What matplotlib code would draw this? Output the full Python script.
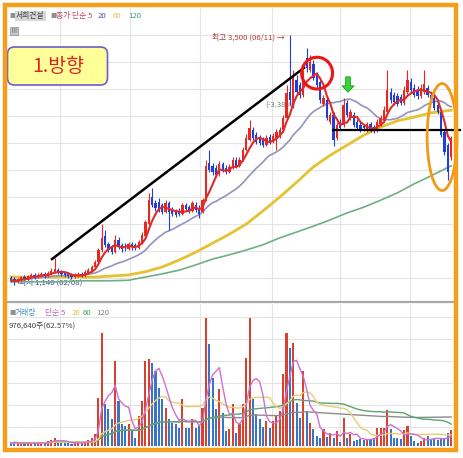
import numpy as np
import pandas as pd
import matplotlib
matplotlib.use("Agg")
import matplotlib.pyplot as plt
from matplotlib.patches import Rectangle, FancyBboxPatch, Ellipse, Polygon

plt.rcParams['font.family'] = ['Noto Sans CJK KR', 'DejaVu Sans']

W, H = 463, 458

# 서희건설 일봉 (원) - 그림에서 읽은 값
opens = [1205, 1195, 1170, 1185, 1215, 1195, 1215, 1235, 1215, 1225,
         1245, 1225, 1245, 1265, 1280, 1265, 1255, 1245, 1235, 1215,
         1225, 1245, 1225, 1255, 1270, 1310, 1355, 1470, 1605, 1525,
         1490, 1450, 1565, 1520, 1510, 1480, 1525, 1520, 1490, 1535,
         1605, 1715, 1970, 1915, 1925, 1895, 1830, 1915, 1850, 1830,
         1840, 1810, 1895, 1875, 1840, 1895, 1865, 1830, 1940, 2290,
         2265, 2245, 2190, 2280, 2245, 2205, 2245, 2320, 2265, 2320,
         2415, 2510, 2605, 2555, 2530, 2510, 2460, 2535, 2490, 2530,
         2545, 2605, 2715, 2960, 2840, 3075, 3030, 2935, 3285, 3170,
         3225, 3120, 3055, 2850, 2885, 2680, 2745, 2530, 2680, 2650,
         2860, 2715, 2745, 2680, 2650, 2640, 2605, 2660, 2630, 2605,
         2660, 2700, 2775, 2960, 2935, 2925, 2915, 2860, 2960, 3055,
         3000, 2980, 2925, 2960, 3000, 2935, 2905, 2840, 2775, 2585,
         2460, 2350]
highs = [1225, 1215, 1205, 1225, 1235, 1235, 1255, 1255, 1255, 1265,
         1265, 1270, 1300, 1395, 1300, 1280, 1270, 1265, 1255, 1255,
         1265, 1265, 1280, 1300, 1330, 1375, 1490, 1715, 1660, 1545,
         1520, 1610, 1595, 1535, 1535, 1545, 1545, 1535, 1565, 1640,
         1755, 2010, 2055, 1940, 1960, 1915, 1940, 1935, 1875, 1855,
         1865, 1915, 1915, 1895, 1935, 1925, 1895, 1960, 2320, 2415,
         2290, 2275, 2310, 2300, 2275, 2280, 2350, 2350, 2350, 2445,
         2565, 2700, 2630, 2585, 2555, 2535, 2555, 2565, 2575, 2615,
         2630, 2745, 3030, 3500, 3170, 3120, 3055, 3170, 3375, 3310,
         3265, 3150, 3075, 2935, 2915, 2775, 2775, 2680, 2705, 2905,
         2885, 2800, 2775, 2705, 2680, 2660, 2680, 2680, 2650, 2705,
         2745, 2830, 3170, 3000, 2960, 2955, 2945, 3020, 3170, 3095,
         3035, 3020, 3035, 3170, 3030, 2960, 2935, 2865, 2790, 2605,
         2480, 2545]
lows = [1170, 1140, 1160, 1180, 1185, 1185, 1205, 1195, 1205, 1215,
        1205, 1215, 1235, 1255, 1245, 1225, 1215, 1205, 1195, 1205,
        1215, 1215, 1215, 1245, 1265, 1300, 1350, 1450, 1500, 1450,
        1435, 1440, 1480, 1450, 1460, 1470, 1470, 1470, 1480, 1525,
        1595, 1705, 1875, 1840, 1830, 1810, 1820, 1660, 1790, 1780,
        1790, 1800, 1840, 1820, 1830, 1830, 1770, 1820, 1935, 2205,
        2180, 2160, 2170, 2205, 2190, 2195, 2235, 2245, 2255, 2310,
        2405, 2500, 2510, 2470, 2460, 2445, 2450, 2470, 2480, 2415,
        2530, 2585, 2700, 2840, 2810, 2935, 2905, 2915, 3150, 3150,
        3075, 3000, 2860, 2830, 2700, 2660, 2450, 2510, 2605, 2630,
        2725, 2700, 2630, 2605, 2585, 2595, 2585, 2585, 2575, 2585,
        2640, 2680, 2755, 2860, 2840, 2830, 2840, 2840, 2945, 2955,
        2915, 2895, 2905, 2945, 2915, 2865, 2790, 2755, 2535, 2365,
        2130, 2320]
closes = [1185, 1170, 1195, 1215, 1195, 1225, 1235, 1215, 1235, 1245,
          1225, 1255, 1270, 1290, 1265, 1245, 1235, 1225, 1215, 1235,
          1245, 1225, 1265, 1280, 1310, 1355, 1470, 1585, 1520, 1470,
          1450, 1565, 1510, 1480, 1490, 1525, 1500, 1490, 1545, 1610,
          1735, 1940, 1895, 1865, 1850, 1830, 1915, 1830, 1810, 1800,
          1810, 1895, 1855, 1840, 1915, 1850, 1810, 1940, 2265, 2225,
          2205, 2180, 2280, 2225, 2205, 2255, 2320, 2265, 2320, 2415,
          2530, 2620, 2530, 2490, 2480, 2460, 2530, 2490, 2545, 2585,
          2605, 2715, 2955, 2885, 3095, 2960, 2935, 3120, 3190, 3245,
          3095, 3030, 2885, 2905, 2715, 2745, 2510, 2650, 2620, 2840,
          2745, 2775, 2650, 2620, 2605, 2620, 2660, 2605, 2595, 2680,
          2715, 2790, 2980, 2885, 2865, 2850, 2860, 2980, 3075, 2980,
          2935, 2925, 3000, 3035, 2935, 2885, 2810, 2775, 2555, 2395,
          2205, 2530]
# 거래량 (천주)
volumes = [180, 240, 180, 120, 180, 240, 180, 120, 180, 240,
           180, 300, 360, 480, 300, 180, 240, 180, 120, 240,
           180, 180, 240, 360, 480, 720, 2880, 6780, 2520, 2220,
           1620, 5100, 2700, 1320, 1200, 1320, 900, 480, 1800, 2700,
           5100, 5220, 4980, 4500, 3480, 2820, 2280, 1620, 1380, 1320,
           1080, 2820, 1080, 1080, 1620, 1080, 1200, 2280, 7680, 6120,
           4080, 2220, 3420, 1980, 900, 1020, 2520, 780, 1320, 2520,
           5280, 7680, 2820, 1920, 1620, 1140, 1500, 1080, 1500, 1800,
           2100, 4320, 6780, 5880, 6180, 2580, 1680, 4500, 2100, 1380,
           1020, 600, 480, 1020, 540, 780, 480, 900, 240, 1680,
           480, 720, 300, 360, 420, 360, 420, 420, 480, 1080,
           1080, 1080, 2160, 1020, 480, 480, 420, 960, 1200, 600,
           300, 180, 300, 480, 600, 420, 420, 360, 420, 480,
           780, 977]

# 60일 / 120일 이동평균 (그림에서 읽은 값, 5봉 간격)
ma_idx = [0, 5, 10, 15, 20, 25, 30, 35, 40, 45, 50, 55, 60, 65,
          70, 75, 80, 85, 90, 95, 100, 105, 110, 115, 120, 125, 131]
ma60 = [1215, 1215, 1215, 1215, 1215, 1215, 1225, 1235, 1265, 1310, 1375, 1450, 1535, 1620,
        1715, 1840, 1970, 2110, 2255, 2365, 2460, 2555, 2630, 2690, 2725, 2765, 2790]
ma120 = [1170, 1170, 1170, 1170, 1180, 1180, 1180, 1185, 1215, 1245, 1280, 1330, 1385, 1425,
         1470, 1520, 1585, 1640, 1695, 1755, 1820, 1875, 1940, 2010, 2095, 2170, 2265]

# 주석 위치 (봉 번호, 가격)
trend_line = ([12.2, 87.2], [1385, 3190])
support_price = 2605
support_from = 95.8
circle_at = (91.1, 3140)
ellipse_at = (128.3, 2537)
arrow_at = (100.3, 3105)

x = np.arange(len(closes))
o = np.array(opens)
c = np.array(closes)
hi = np.array(highs)
lo = np.array(lows)
vol = np.array(volumes)
up = c >= o
RED, BLUE = '#e8281e', '#1f3fd8'
cols = np.where(up, RED, BLUE)
vcols = np.where(up, '#d8412f', '#3a74c8')

fig = plt.figure(figsize=(W / 100, H / 100), dpi=100)

def fx(px):
    return px / W

def fy(py):
    return 1 - py / H

ax = fig.add_axes([fx(8), fy(302), fx(453) - fx(8), fy(8) - fy(302)])
axv = fig.add_axes([fx(8), fy(446), fx(453) - fx(8), fy(304) - fy(446)])

xlim = (-0.9, 131.55)
for a in (ax, axv):
    a.set_xlim(*xlim)
    a.set_xticks([14.6, 35.4, 56.3, 77.7, 97.9, 118.8])
    a.grid(True, color='#e4e4e4', lw=0.8)
    a.set_axisbelow(True)
    a.tick_params(length=0, labelbottom=False, labelleft=False)
    for s in a.spines.values():
        s.set_visible(False)

ax.set_ylim(979.5, 3755)
ax.set_yticks([3500, 3245, 2990, 2735, 2480, 2225, 1970, 1715, 1460, 1205])
ax.spines['bottom'].set_visible(True)
ax.spines['bottom'].set_color('#a8a8a8')
ax.spines['bottom'].set_linewidth(1.6)

axv.set_ylim(0, 8520)
axv.set_yticks([1140, 2460, 3780, 5100, 6420, 7740])

# 이동평균선
ma5 = pd.Series(closes).rolling(5, min_periods=1).mean()
ma20 = pd.Series(closes).rolling(20, min_periods=1).mean()
ax.plot(ma_idx, ma120, color='#6fae86', lw=1.2, zorder=2)
ax.plot(ma_idx, ma60, color='#e5c232', lw=2.0, zorder=2)
ax.plot(x, ma20, color='#9393bd', lw=1.2, zorder=2)

# 텍스트 (봉 뒤)
fs = 5.6
ax.text(75.6, 2835, '(-3.38%)', fontsize=fs, color='#777777', va='center', zorder=1)
ax.text(2.5, 1160, '최저 1,140 (02/08)', fontsize=fs, color='#3b4a96', va='center', zorder=1)

# 캔들
ax.vlines(x, lo, hi, colors=cols, lw=0.8, zorder=3)
body_bot = np.minimum(o, c)
body_h = np.maximum(np.abs(c - o), 8)
ax.bar(x, body_h, bottom=body_bot, width=0.68, color=cols, lw=0, zorder=3)
ax.plot(x, ma5, color='#e02a2a', lw=1.5, zorder=4)

ax.text(83 - 1.6, 3480, '최고 3,500 (06/11) →', fontsize=fs, color='#b33a3a',
        ha='right', va='center', zorder=4)

# 추세선, 지지선, 표시
ax.plot(*trend_line, color='black', lw=1.8, zorder=5)
ax.plot([support_from, 133.6], [support_price, support_price], color='black', lw=1.6,
        zorder=5, clip_on=False)
ax.add_patch(Ellipse(circle_at, 9.2, 300, fill=False, ec='#ee1515', lw=2.2, zorder=6))
ax.add_patch(Ellipse(ellipse_at, 8.9, 1010, fill=False, ec='#f29a18', lw=2.0, zorder=6,
                     clip_on=False))
ax_, ay_ = arrow_at
ax.add_patch(Polygon([(ax_ - 0.7, ay_), (ax_ + 0.7, ay_), (ax_ + 0.7, ay_ - 85),
                      (ax_ + 1.8, ay_ - 85), (ax_, ay_ - 145), (ax_ - 1.8, ay_ - 85),
                      (ax_ - 0.7, ay_ - 85)],
                     closed=True, fc='#33d633', ec='#1c9a1c', lw=0.6, zorder=6))

# 거래량
axv.bar(x, vol, width=0.62, color=vcols, lw=0, zorder=2)
vs = pd.Series(volumes)
axv.plot(x, vs.rolling(120, min_periods=1).mean(), color='#8c8c8c', lw=1.0, zorder=3)
axv.plot(x, vs.rolling(60, min_periods=1).mean(), color='#5aa66e', lw=1.0, zorder=3)
axv.plot(x, vs.rolling(20, min_periods=1).mean(), color='#e6cf73', lw=1.0, zorder=3)
axv.plot(x, vs.rolling(5, min_periods=1).mean(), color='#d070d0', lw=1.0, zorder=3)

# 범례 (가격)
fig.text(fx(9), fy(16), '■', fontsize=4.5, color='#909090', va='center')
fig.text(fx(16), fy(16), '서희건설', fontsize=fs, color='#404040', va='center',
         bbox=dict(facecolor='#d8d8d8', edgecolor='none', pad=0.8))
fig.text(fx(50), fy(16), '■', fontsize=4.5, color='#909090', va='center')
fig.text(fx(56), fy(16), '종가 단순 5', fontsize=fs, color='#c8405a', va='center')
fig.text(fx(98), fy(16), '20', fontsize=fs, color='#4858a8', va='center')
fig.text(fx(113), fy(16), '60', fontsize=fs, color='#e0c060', va='center')
fig.text(fx(128), fy(16), '120', fontsize=fs, color='#40a080', va='center')
fig.add_artist(Rectangle((fx(10), fy(35)), fx(8), fy(27) - fy(35), transform=fig.transFigure,
                         fc='#c8c8c8', ec='#909090', lw=0.5))
fig.text(fx(14), fy(31), 'Ⅲ', fontsize=4.5, color='#606060', ha='center', va='center')

# 1.방향 상자
fig.add_artist(FancyBboxPatch((0.075, (H - 85) / 100), 1.0, 0.38,
                              boxstyle='round,pad=0,rounding_size=0.07',
                              transform=fig.dpi_scale_trans,
                              fc='#ffff99', ec='#6a5fcf', lw=1.2))
fig.text(fx(58), fy(66), '1.방향', fontsize=14, color='#dd2222', ha='center', va='center')

# 범례 (거래량)
fig.text(fx(9), fy(313), '■', fontsize=4.5, color='#909090', va='center')
fig.text(fx(15), fy(313), '거래량', fontsize=fs, color='#3a92c4', va='center')
fig.text(fx(45), fy(313), '단순 5', fontsize=fs, color='#c060c0', va='center')
fig.text(fx(72), fy(313), '20', fontsize=fs, color='#e0c040', va='center')
fig.text(fx(83), fy(313), '60', fontsize=fs, color='#40a060', va='center')
fig.text(fx(96), fy(313), '120', fontsize=fs, color='#808080', va='center')
fig.text(fx(9), fy(326), '976,640주(62.57%)', fontsize=fs, color='#404040', va='center')

# 주황 테두리
fig.add_artist(Rectangle((4.5 / 100, (H - 450) / 100), 4.52, 4.45, transform=fig.dpi_scale_trans,
                         fill=False, ec='#f59e1a', lw=3.2))

fig.savefig('out.png', dpi=100)
